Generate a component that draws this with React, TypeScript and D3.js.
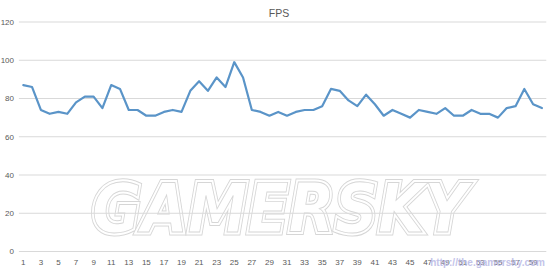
import React from "react";
import * as d3 from "d3";

const title = "FPS";
const categories: number[] = Array.from({ length: 60 }, (_, i) => i + 1);
const fps: number[] = [
  87, 86, 74, 72, 73, 72, 78, 81, 81, 75,
  87, 85, 74, 74, 71, 71, 73, 74, 73, 84,
  89, 84, 91, 86, 99, 91, 74, 73, 71, 73,
  71, 73, 74, 74, 76, 85, 84, 79, 76, 82,
  77, 71, 74, 72, 70, 74, 73, 72, 75, 71,
  71, 74, 72, 72, 70, 75, 76, 85, 77, 75,
];
const yTicks: number[] = [0, 20, 40, 60, 80, 100, 120];
const xTickLabels: number[] = categories.filter((c) => c % 2 === 1);
const watermark = "GAMERSKY";
const url = "http://the.gamersky.com";

const W = 550;
const H = 274;

export default function App() {
  const x = d3.scaleBand<number>().domain(categories).range([18.9, 546.3]).padding(0);
  const cx = (c: number) => (x(c) as number) + x.bandwidth() / 2;
  const y = d3.scaleLinear().domain([0, 120]).range([251.5, 22]);
  const line = d3
    .line<number>()
    .x((_, i) => cx(categories[i]))
    .y((d) => y(d));
  const font = "'Liberation Sans', Arial, sans-serif";
  const wmProps = {
    x: 92,
    y: 232,
    textAnchor: "start" as const,
    fontFamily: "'DejaVu Sans', sans-serif",
    fontWeight: 700,
    fontStyle: "italic",
    fontSize: 68,
    textLength: 376,
    lengthAdjust: "spacingAndGlyphs" as const,
  };
  return (
    <svg
      width={W}
      height={H}
      style={{ position: "absolute", left: 0, top: 0, display: "block", background: "#fff" }}
    >
      <rect x={0} y={0} width={W} height={H} fill="#fff" />
      {/* watermark */}
      <g>
        <text {...wmProps} fill="none" stroke="#d6d6d6" strokeWidth={7}>
          {watermark}
        </text>
        <text {...wmProps} fill="none" stroke="#fff" strokeWidth={5}>
          {watermark}
        </text>
        <text {...wmProps} fill="#fff" stroke="#d6d6d6" strokeWidth={0.9}>
          {watermark}
        </text>
      </g>
      {/* gridlines */}
      {yTicks.map((t) => (
        <line
          key={t}
          x1={18.9}
          x2={546.3}
          y1={y(t)}
          y2={y(t)}
          stroke="#d9d9d9"
          strokeWidth={1}
        />
      ))}
      {yTicks.map((t) => (
        <text
          key={"l" + t}
          x={14}
          y={y(t) + 2.8}
          textAnchor="end"
          fontFamily={font}
          fontSize={8}
          fill="#595959"
        >
          {t}
        </text>
      ))}
      {xTickLabels.map((c) => (
        <text
          key={"x" + c}
          x={cx(c)}
          y={265}
          textAnchor="middle"
          fontFamily={font}
          fontSize={8}
          fill="#595959"
        >
          {c}
        </text>
      ))}
      <text
        x={279}
        y={17}
        textAnchor="middle"
        fontFamily={font}
        fontSize={10.5}
        fill="#595959"
      >
        {title}
      </text>
      <path
        d={line(fps) as string}
        fill="none"
        stroke="#5a94c8"
        strokeWidth={2.2}
        strokeLinejoin="round"
        strokeLinecap="round"
      />
      <text
        x={545}
        y={266}
        textAnchor="end"
        fontFamily={font}
        fontWeight={700}
        fontSize={10}
        fill="#b9b9e6"
        opacity={0.85}
      >
        {url}
      </text>
    </svg>
  );
}
